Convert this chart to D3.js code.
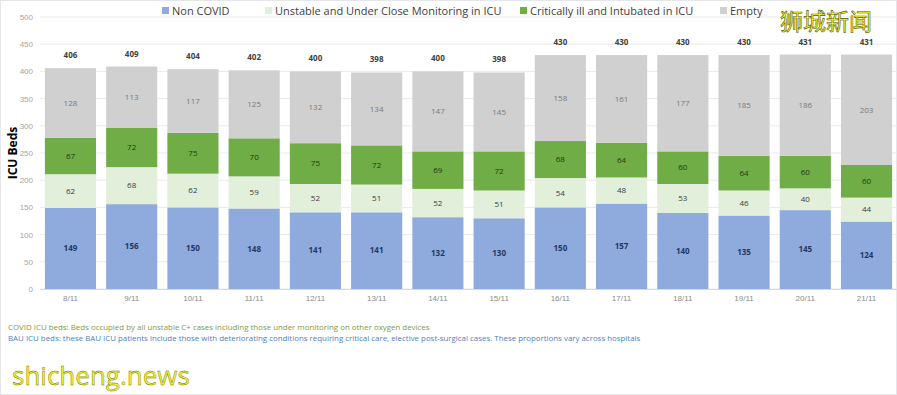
<!DOCTYPE html>
<html>
<head>
<meta charset="utf-8">
<script src="https://cdn.jsdelivr.net/npm/d3@7"></script>
<style>
  body { margin: 0; background: #fff; }
  svg { display: block; font-family: "Open Sans", "Liberation Sans", sans-serif; }
</style>
</head>
<body>
<div id="chart"></div>
<script>
const dates = ["8/11", "9/11", "10/11", "11/11", "12/11", "13/11", "14/11",
  "15/11", "16/11", "17/11", "18/11", "19/11", "20/11", "21/11"];
const nonCovid = [149, 156, 150, 148, 141, 141, 132, 130, 150, 157, 140, 135, 145, 124];
const unstable = [62, 68, 62, 59, 52, 51, 52, 51, 54, 48, 53, 46, 40, 44];
const critical = [67, 72, 75, 70, 75, 72, 69, 72, 68, 64, 60, 64, 60, 60];
const empty = [128, 113, 117, 125, 132, 134, 147, 145, 158, 161, 177, 185, 186, 203];
const yTicks = [0, 50, 100, 150, 200, 250, 300, 350, 400, 450, 500];

const seriesNames = ["Non COVID", "Unstable and Under Close Monitoring in ICU",
  "Critically ill and Intubated in ICU", "Empty"];
const seriesColors = ["#8faadc", "#e2efda", "#70ad47", "#d0d0d0"];
const labelColors = ["#1f3864", "#3a3a3a", "#1e3a10", "#7a7a7a"];

const width = 897, height = 395;
const svg = d3.select("#chart").append("svg")
  .attr("width", width).attr("height", height);

svg.append("rect")
  .attr("x", 0.5).attr("y", 0.5)
  .attr("width", width - 1).attr("height", height - 1)
  .attr("fill", "#fff").attr("stroke", "#e6e6ea");

const x = d3.scaleBand().domain(dates).range([40, 897])
  .paddingInner(0.165).paddingOuter(0.08);
const y = d3.scaleLinear().domain([0, 500]).range([289, 17]);

// gridlines
svg.append("g").selectAll("line")
  .data(yTicks)
  .enter()
  .append("line")
  .attr("x1", 40).attr("x2", 897)
  .attr("y1", (d) => y(d)).attr("y2", (d) => y(d))
  .attr("stroke", "#e9e9e9").attr("stroke-width", 1);

// y axis
const yAxis = svg.append("g")
  .attr("transform", "translate(40,0)")
  .call(d3.axisLeft(y).tickValues(yTicks).tickSize(0).tickPadding(7));
yAxis.select(".domain").remove();
yAxis.selectAll("text").attr("fill", "#a6a6a6").attr("font-size", 8);

// x axis
const xAxis = svg.append("g")
  .attr("transform", "translate(0,289)")
  .call(d3.axisBottom(x).tickSize(0).tickPadding(6));
xAxis.select(".domain").attr("stroke", "#d9d9d9");
xAxis.selectAll("text").attr("fill", "#8c8c8c").attr("font-size", 8);

// stacked bars
const rows = dates.map((d, i) => ({
  date: d, s0: nonCovid[i], s1: unstable[i], s2: critical[i], s3: empty[i]
}));
const stack = d3.stack().keys(["s0", "s1", "s2", "s3"]);
const layers = stack(rows);

const layerG = svg.append("g").selectAll("g")
  .data(layers)
  .enter()
  .append("g")
  .attr("fill", (d, i) => seriesColors[i]);

layerG.selectAll("rect")
  .data((d) => d)
  .enter()
  .append("rect")
  .attr("x", (d) => x(d.data.date))
  .attr("y", (d) => y(d[1]))
  .attr("width", x.bandwidth())
  .attr("height", (d) => y(d[0]) - y(d[1]));

// segment labels
layers.forEach((layer, li) => {
  svg.append("g").selectAll("text")
    .data(layer)
    .enter()
    .append("text")
    .attr("x", (d) => x(d.data.date) + x.bandwidth() / 2)
    .attr("y", (d) => y((d[0] + d[1]) / 2))
    .attr("dy", "0.35em")
    .attr("text-anchor", "middle")
    .attr("font-size", 8)
    .attr("font-weight", li === 0 ? "bold" : "normal")
    .attr("fill", labelColors[li])
    .text((d) => d[1] - d[0]);
});

// totals
svg.append("g").selectAll("text")
  .data(layers[3])
  .enter()
  .append("text")
  .attr("x", (d) => x(d.data.date) + x.bandwidth() / 2)
  .attr("y", (d) => y(d[1]) - 10)
  .attr("text-anchor", "middle")
  .attr("font-size", 8)
  .attr("font-weight", "bold")
  .attr("fill", "#404040")
  .text((d) => d[1]);

// y label
svg.append("text")
  .attr("transform", "translate(17,153) rotate(-90)")
  .attr("text-anchor", "middle")
  .attr("font-size", 12)
  .attr("font-weight", "bold")
  .attr("fill", "#000")
  .text("ICU Beds");

// legend
const legendX = [162, 265, 520, 720];
const legend = svg.append("g").selectAll("g")
  .data(seriesNames)
  .enter()
  .append("g")
  .attr("transform", (d, i) => `translate(${legendX[i]},11)`);
legend.append("rect")
  .attr("x", 0).attr("y", -4)
  .attr("width", 7).attr("height", 7)
  .attr("fill", (d, i) => seriesColors[i]);
legend.append("text")
  .attr("x", 10).attr("y", 0)
  .attr("dy", "0.35em")
  .attr("font-size", 11)
  .attr("fill", "#404040")
  .text((d) => d);

// footnotes
svg.append("text")
  .attr("x", 8).attr("y", 330)
  .attr("font-size", 7.9)
  .attr("fill", "#7f9a45")
  .text("COVID ICU beds: Beds occupied by all unstable C+ cases including those under monitoring on other oxygen devices");
svg.append("text")
  .attr("x", 8).attr("y", 341)
  .attr("font-size", 7.9)
  .attr("fill", "#4f7fc0")
  .text("BAU ICU beds: these BAU ICU patients include those with deteriorating conditions requiring critical care, elective post-surgical cases. These proportions vary across hospitals");

// watermarks
svg.append("text")
  .attr("x", 780).attr("y", 30)
  .attr("font-family", "Noto Sans CJK SC")
  .attr("font-size", 23)
  .attr("fill", "#ffff33")
  .attr("stroke", "#5a5a00").attr("stroke-width", 0.6)
  .text("狮城新闻");
svg.append("text")
  .attr("x", 12).attr("y", 385)
  .attr("font-size", 26)
  .attr("fill", "#f2f230")
  .attr("stroke", "#6a6a00").attr("stroke-width", 0.4)
  .text("shicheng.news");
</script>
</body>
</html>
